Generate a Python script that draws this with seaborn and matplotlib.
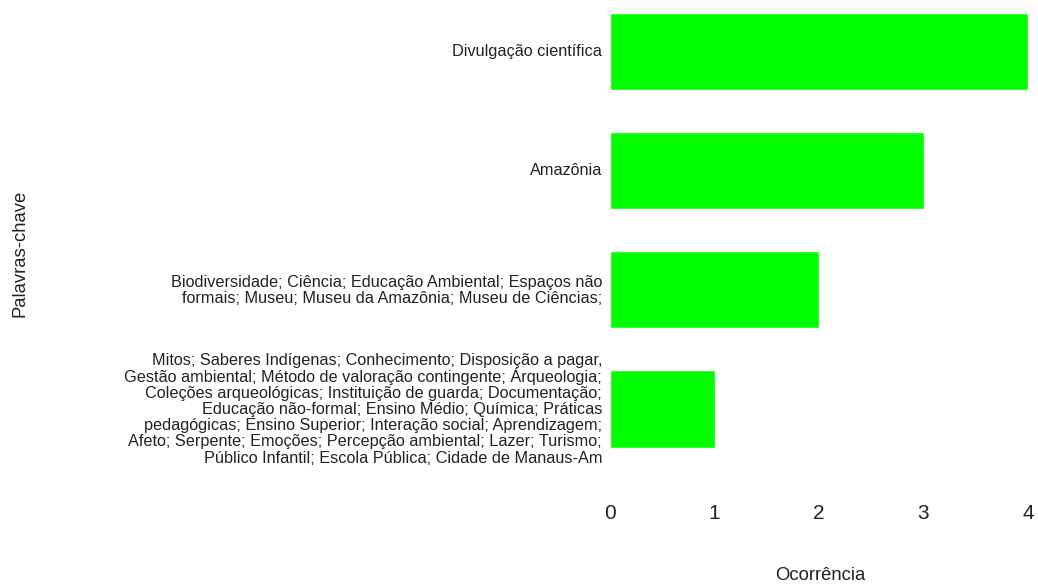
import matplotlib
matplotlib.use("Agg")
import matplotlib.pyplot as plt
import seaborn as sns
import pandas as pd

categories = [
    "Divulgação científica",
    "Amazônia",
    "Biodiversidade; Ciência; Educação Ambiental; Espaços não\nformais; Museu; Museu da Amazônia; Museu de Ciências;",
    "Mitos; Saberes Indígenas; Conhecimento; Disposição a pagar,\n"
    "Gestão ambiental; Método de valoração contingente; Árqueologia;\n"
    "Coleções arqueológicas; Instituição de guarda; Documentação;\n"
    "Educação não-formal; Ensino Médio; Química; Práticas\n"
    "pedagógicas; Ensino Superior; Interação social; Aprendizagem;\n"
    "Afeto; Serpente; Emoções; Percepção ambiental; Lazer; Turismo;\n"
    "Público Infantil; Escola Pública; Cidade de Manaus-Am",
]
values = [4, 3, 2, 1]
x_ticks = [0, 1, 2, 3, 4]

df = pd.DataFrame({"Palavras-chave": categories, "Ocorrência": values})

sns.set_style("white")
plt.rcParams["font.family"] = ["Liberation Sans", "DejaVu Sans"]

fig = plt.figure(figsize=(10.38, 5.85), dpi=100)
ax = fig.add_axes([610 / 1038, 1 - 490 / 585, 418 / 1038, 490 / 585])

sns.barplot(data=df, x="Ocorrência", y="Palavras-chave", color="#00ff00",
            saturation=1, width=0.65, ax=ax, orient="h")

ax.set_xlim(0, 4)
ax.set_ylim(3.68, -0.43)
ax.set_xticks(x_ticks)
ax.set_xticklabels([str(t) for t in x_ticks], fontsize=15, color="#222222")
ax.tick_params(axis="x", length=0, pad=10)
ax.tick_params(axis="y", length=0)

# category labels: drawn line by line for an even line pitch
yticks = ax.get_yticks()
ax.set_yticklabels([])
line_px = 16.2
for ypos, cat in zip(yticks, categories):
    lines = cat.split("\n")
    n = len(lines)
    for k, line in enumerate(lines):
        dy = -((k - (n - 1) / 2) * line_px + 5)
        ax.annotate(line, xy=(0, ypos), xycoords=("axes fraction", "data"),
                    xytext=(-8, dy), textcoords="offset pixels",
                    ha="right", va="baseline", fontsize=11.7, color="#222222",
                    annotation_clip=False)

ax.set_xlabel("")
ax.set_ylabel("")
fig.text(820 / 1038, 1 - 575 / 585, "Ocorrência",
         ha="center", va="center", fontsize=13.3, color="#222222")
fig.text(20 / 1038, 1 - 253 / 585, "Palavras-chave", rotation=90,
         ha="center", va="center", fontsize=13.3, color="#222222")

for s in ax.spines.values():
    s.set_visible(False)

fig.savefig("out.png", dpi=100, facecolor="white")
